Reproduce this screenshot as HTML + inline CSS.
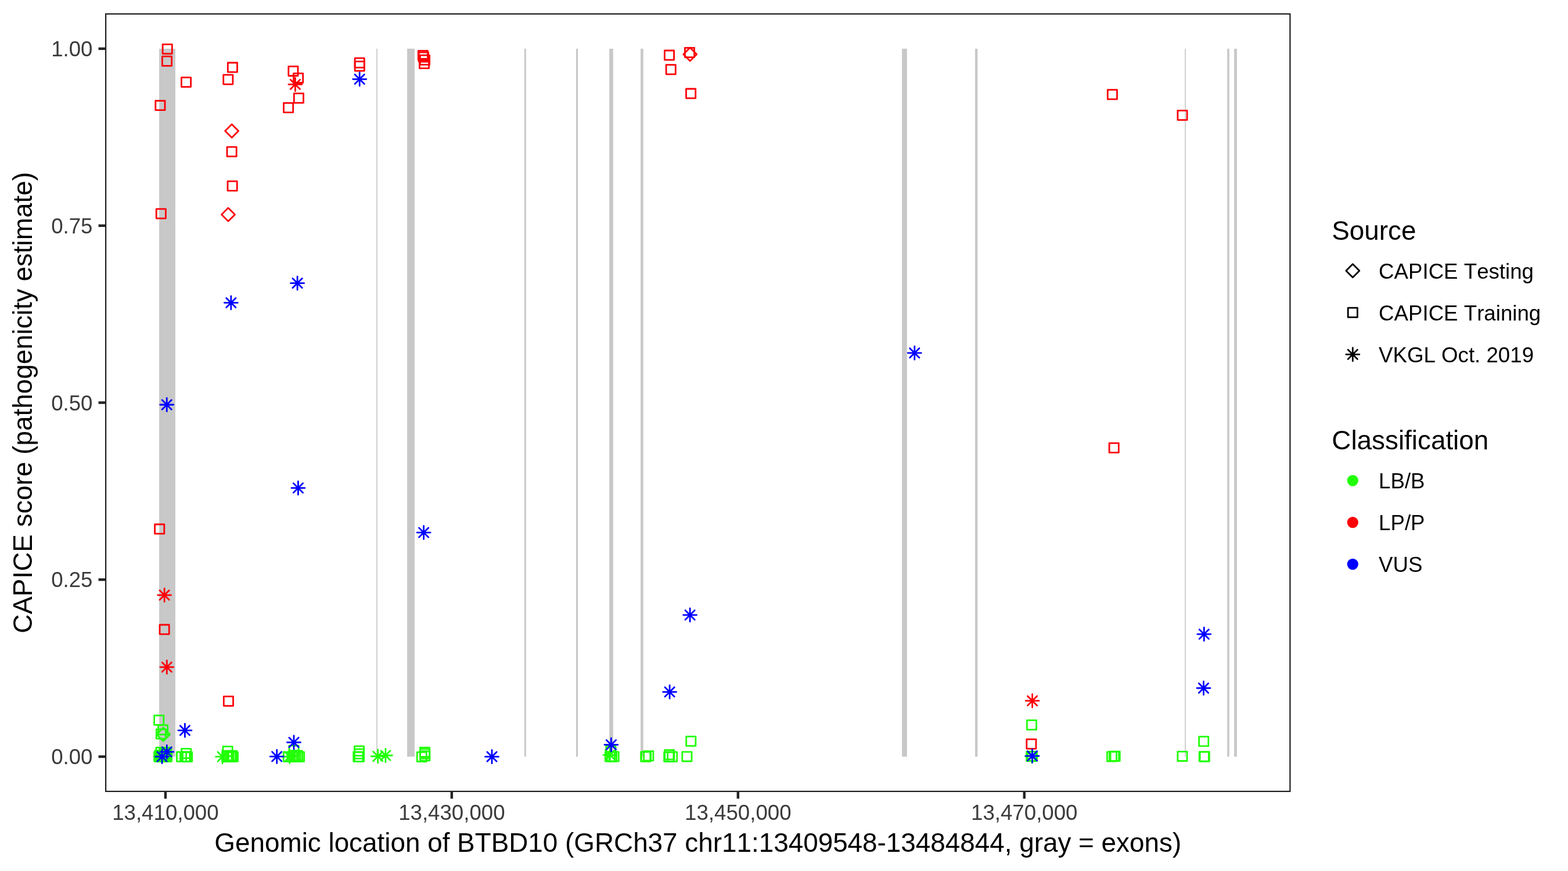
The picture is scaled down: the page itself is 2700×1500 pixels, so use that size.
<!DOCTYPE html>
<html lang="en"><head><meta charset="utf-8"><title>CAPICE score BTBD10</title>
<style>html,body{margin:0;padding:0;background:#fff;}body{width:2700px;height:1500px;overflow:hidden;}svg{display:block;}text{font-family:"Liberation Sans",sans-serif;font-kerning:none;}</style>
</head><body>
<svg width="2700" height="1500" viewBox="0 0 2700 1500">
<rect x="0" y="0" width="2700" height="1500" fill="#ffffff"/>
<g fill="#c8c8c8">
<rect x="274.10" y="83.85" width="27.80" height="1219.20"/>
<rect x="648.20" y="83.85" width="1.70" height="1219.20"/>
<rect x="701.10" y="83.85" width="12.80" height="1219.20"/>
<rect x="902.90" y="83.85" width="2.90" height="1219.20"/>
<rect x="992.00" y="83.85" width="3.10" height="1219.20"/>
<rect x="1049.20" y="83.85" width="6.60" height="1219.20"/>
<rect x="1103.10" y="83.85" width="4.60" height="1219.20"/>
<rect x="1553.10" y="83.85" width="8.70" height="1219.20"/>
<rect x="1679.00" y="83.85" width="4.30" height="1219.20"/>
<rect x="2040.20" y="83.85" width="1.70" height="1219.20"/>
<rect x="2113.20" y="83.85" width="3.60" height="1219.20"/>
<rect x="2125.10" y="83.85" width="4.80" height="1219.20"/>
</g>
<g fill="none" stroke-width="2.80" stroke-linejoin="round" stroke-linecap="round">
<g stroke="#21ff06">
<rect x="265.60" y="1232.10" width="16.20" height="16.20"/>
<rect x="272.50" y="1248.80" width="16.20" height="16.20"/>
<rect x="269.30" y="1255.90" width="16.20" height="16.20"/>
<rect x="265.60" y="1295.10" width="16.20" height="16.20"/>
<rect x="267.50" y="1295.10" width="16.20" height="16.20"/>
<rect x="269.40" y="1295.10" width="16.20" height="16.20"/>
<rect x="271.30" y="1295.10" width="16.20" height="16.20"/>
<rect x="273.20" y="1295.10" width="16.20" height="16.20"/>
<rect x="275.10" y="1295.10" width="16.20" height="16.20"/>
<rect x="277.00" y="1295.10" width="16.20" height="16.20"/>
<rect x="279.30" y="1295.10" width="16.20" height="16.20"/>
<rect x="268.90" y="1287.40" width="16.20" height="16.20"/>
<rect x="274.90" y="1287.40" width="16.20" height="16.20"/>
<rect x="278.60" y="1287.40" width="16.20" height="16.20"/>
<rect x="266.90" y="1292.50" width="16.20" height="16.20"/>
<rect x="271.90" y="1292.50" width="16.20" height="16.20"/>
<rect x="276.90" y="1292.50" width="16.20" height="16.20"/>
<rect x="274.80" y="1289.90" width="16.20" height="16.20"/>
<rect x="304.50" y="1295.10" width="16.20" height="16.20"/>
<rect x="310.50" y="1295.10" width="16.20" height="16.20"/>
<rect x="312.50" y="1295.10" width="16.20" height="16.20"/>
<rect x="314.60" y="1295.10" width="16.20" height="16.20"/>
<rect x="312.50" y="1289.40" width="16.20" height="16.20"/>
<rect x="384.00" y="1285.60" width="16.20" height="16.20"/>
<rect x="382.60" y="1295.10" width="16.20" height="16.20"/>
<rect x="385.90" y="1295.10" width="16.20" height="16.20"/>
<rect x="389.40" y="1295.10" width="16.20" height="16.20"/>
<rect x="393.30" y="1295.10" width="16.20" height="16.20"/>
<rect x="383.90" y="1293.10" width="16.20" height="16.20"/>
<rect x="391.40" y="1293.10" width="16.20" height="16.20"/>
<rect x="498.00" y="1284.20" width="16.20" height="16.20"/>
<rect x="488.20" y="1295.10" width="16.20" height="16.20"/>
<rect x="495.10" y="1295.10" width="16.20" height="16.20"/>
<rect x="500.70" y="1295.10" width="16.20" height="16.20"/>
<rect x="504.20" y="1295.10" width="16.20" height="16.20"/>
<rect x="507.50" y="1295.10" width="16.20" height="16.20"/>
<rect x="497.90" y="1292.90" width="16.20" height="16.20"/>
<rect x="504.00" y="1292.90" width="16.20" height="16.20"/>
<rect x="610.40" y="1285.10" width="16.20" height="16.20"/>
<rect x="610.40" y="1290.10" width="16.20" height="16.20"/>
<rect x="610.40" y="1295.10" width="16.20" height="16.20"/>
<rect x="608.70" y="1295.10" width="16.20" height="16.20"/>
<rect x="718.20" y="1295.40" width="16.20" height="16.20"/>
<rect x="723.70" y="1293.60" width="16.20" height="16.20"/>
<rect x="723.50" y="1289.90" width="16.20" height="16.20"/>
<rect x="723.40" y="1287.30" width="16.20" height="16.20"/>
<rect x="1042.30" y="1294.90" width="16.20" height="16.20"/>
<rect x="1049.10" y="1294.90" width="16.20" height="16.20"/>
<rect x="1043.80" y="1284.90" width="16.20" height="16.20"/>
<rect x="1045.40" y="1294.90" width="16.20" height="16.20"/>
<rect x="1103.60" y="1294.90" width="16.20" height="16.20"/>
<rect x="1104.40" y="1294.90" width="16.20" height="16.20"/>
<rect x="1108.65" y="1293.70" width="16.20" height="16.20"/>
<rect x="1143.60" y="1295.10" width="16.20" height="16.20"/>
<rect x="1144.30" y="1295.10" width="16.20" height="16.20"/>
<rect x="1149.60" y="1295.10" width="16.20" height="16.20"/>
<rect x="1144.70" y="1291.60" width="16.20" height="16.20"/>
<rect x="1174.80" y="1294.80" width="16.20" height="16.20"/>
<rect x="1181.70" y="1268.40" width="16.20" height="16.20"/>
<rect x="1768.40" y="1240.40" width="16.20" height="16.20"/>
<rect x="1767.70" y="1294.50" width="16.20" height="16.20"/>
<rect x="1768.50" y="1294.50" width="16.20" height="16.20"/>
<rect x="1769.40" y="1294.50" width="16.20" height="16.20"/>
<rect x="1906.40" y="1294.90" width="16.20" height="16.20"/>
<rect x="1910.40" y="1294.50" width="16.20" height="16.20"/>
<rect x="1912.10" y="1294.10" width="16.20" height="16.20"/>
<rect x="2027.90" y="1294.30" width="16.20" height="16.20"/>
<rect x="2064.60" y="1268.70" width="16.20" height="16.20"/>
<rect x="2065.20" y="1294.90" width="16.20" height="16.20"/>
<rect x="2066.20" y="1294.90" width="16.20" height="16.20"/>
<path d="M269.60 1264.80L281.10 1253.30L292.60 1264.80L281.10 1276.30Z"/>
<path d="M1768.86 1294.26L1785.14 1310.54M1768.86 1310.54L1785.14 1294.26M1765.49 1302.40L1788.51 1302.40M1777.00 1290.89L1777.00 1313.91"/>
<path d="M374.96 1295.06L391.24 1311.34M374.96 1311.34L391.24 1295.06M371.59 1303.20L394.61 1303.20M383.10 1291.69L383.10 1314.71"/>
<path d="M490.56 1294.86L506.84 1311.14M490.56 1311.14L506.84 1294.86M487.19 1303.00L510.21 1303.00M498.70 1291.49L498.70 1314.51"/>
<path d="M642.56 1294.36L658.84 1310.64M642.56 1310.64L658.84 1294.36M639.19 1302.50L662.21 1302.50M650.70 1290.99L650.70 1314.01"/>
<path d="M655.76 1292.86L672.04 1309.14M655.76 1309.14L672.04 1292.86M652.39 1301.00L675.41 1301.00M663.90 1289.49L663.90 1312.51"/>
<path d="M1042.26 1292.06L1058.54 1308.34M1042.26 1308.34L1058.54 1292.06M1038.89 1300.20L1061.91 1300.20M1050.40 1288.69L1050.40 1311.71"/>
</g>
<g stroke="#fb0007">
<rect x="280.10" y="76.30" width="16.20" height="16.20"/>
<rect x="279.40" y="97.20" width="16.20" height="16.20"/>
<rect x="312.40" y="133.40" width="16.20" height="16.20"/>
<rect x="267.80" y="173.50" width="16.20" height="16.20"/>
<rect x="392.30" y="108.00" width="16.20" height="16.20"/>
<rect x="384.70" y="128.90" width="16.20" height="16.20"/>
<rect x="496.80" y="114.30" width="16.20" height="16.20"/>
<rect x="505.50" y="126.30" width="16.20" height="16.20"/>
<rect x="506.30" y="160.90" width="16.20" height="16.20"/>
<rect x="488.50" y="177.40" width="16.20" height="16.20"/>
<rect x="611.10" y="100.10" width="16.20" height="16.20"/>
<rect x="611.10" y="105.90" width="16.20" height="16.20"/>
<rect x="391.00" y="253.20" width="16.20" height="16.20"/>
<rect x="392.00" y="312.10" width="16.20" height="16.20"/>
<rect x="269.20" y="359.90" width="16.20" height="16.20"/>
<rect x="720.30" y="87.40" width="16.20" height="16.20"/>
<rect x="721.30" y="90.10" width="16.20" height="16.20"/>
<rect x="723.40" y="95.20" width="16.20" height="16.20"/>
<rect x="722.40" y="101.50" width="16.20" height="16.20"/>
<rect x="1144.40" y="87.00" width="16.20" height="16.20"/>
<rect x="1147.10" y="111.60" width="16.20" height="16.20"/>
<rect x="1179.40" y="82.35" width="16.20" height="16.20"/>
<rect x="1181.50" y="153.00" width="16.20" height="16.20"/>
<rect x="1907.30" y="154.70" width="16.20" height="16.20"/>
<rect x="2027.90" y="190.40" width="16.20" height="16.20"/>
<rect x="1910.10" y="763.20" width="16.20" height="16.20"/>
<rect x="266.60" y="903.00" width="16.20" height="16.20"/>
<rect x="275.00" y="1076.00" width="16.20" height="16.20"/>
<rect x="385.30" y="1199.40" width="16.20" height="16.20"/>
<rect x="1767.80" y="1273.10" width="16.20" height="16.20"/>
<path d="M387.60 225.40L399.10 213.90L410.60 225.40L399.10 236.90Z"/>
<path d="M381.50 369.60L393.00 358.10L404.50 369.60L393.00 381.10Z"/>
<path d="M1176.70 93.50L1188.20 82.00L1199.70 93.50L1188.20 105.00Z"/>
<path d="M500.26 137.26L516.54 153.54M500.26 153.54L516.54 137.26M496.89 145.40L519.91 145.40M508.40 133.89L508.40 156.91"/>
<path d="M274.96 1016.66L291.24 1032.94M274.96 1032.94L291.24 1016.66M271.59 1024.80L294.61 1024.80M283.10 1013.29L283.10 1036.31"/>
<path d="M279.16 1140.66L295.44 1156.94M279.16 1156.94L295.44 1140.66M275.79 1148.80L298.81 1148.80M287.30 1137.29L287.30 1160.31"/>
<path d="M1769.46 1198.66L1785.74 1214.94M1769.46 1214.94L1785.74 1198.66M1766.09 1206.80L1789.11 1206.80M1777.60 1195.29L1777.60 1218.31"/>
</g>
<g stroke="#0000ff">
<path d="M611.06 128.16L627.34 144.44M611.06 144.44L627.34 128.16M607.69 136.30L630.71 136.30M619.20 124.79L619.20 147.81"/>
<path d="M503.96 479.56L520.24 495.84M503.96 495.84L520.24 479.56M500.59 487.70L523.61 487.70M512.10 476.19L512.10 499.21"/>
<path d="M389.66 513.16L405.94 529.44M389.66 529.44L405.94 513.16M386.29 521.30L409.31 521.30M397.80 509.79L397.80 532.81"/>
<path d="M279.06 688.86L295.34 705.14M279.06 705.14L295.34 688.86M275.69 697.00L298.71 697.00M287.20 685.49L287.20 708.51"/>
<path d="M505.26 832.26L521.54 848.54M505.26 848.54L521.54 832.26M501.89 840.40L524.91 840.40M513.40 828.89L513.40 851.91"/>
<path d="M721.46 908.96L737.74 925.24M721.46 925.24L737.74 908.96M718.09 917.10L741.11 917.10M729.60 905.59L729.60 928.61"/>
<path d="M310.26 1249.66L326.54 1265.94M310.26 1265.94L326.54 1249.66M306.89 1257.80L329.91 1257.80M318.40 1246.29L318.40 1269.31"/>
<path d="M497.86 1270.36L514.14 1286.64M497.86 1286.64L514.14 1270.36M494.49 1278.50L517.51 1278.50M506.00 1266.99L506.00 1290.01"/>
<path d="M838.86 1295.06L855.14 1311.34M838.86 1311.34L855.14 1295.06M835.49 1303.20L858.51 1303.20M847.00 1291.69L847.00 1314.71"/>
<path d="M468.56 1294.76L484.84 1311.04M468.56 1311.04L484.84 1294.76M465.19 1302.90L488.21 1302.90M476.70 1291.39L476.70 1314.41"/>
<path d="M279.16 1286.76L295.44 1303.04M279.16 1303.04L295.44 1286.76M275.79 1294.90L298.81 1294.90M287.30 1283.39L287.30 1306.41"/>
<path d="M270.86 1294.86L287.14 1311.14M270.86 1311.14L287.14 1294.86M267.49 1303.00L290.51 1303.00M279.00 1291.49L279.00 1314.51"/>
<path d="M1144.96 1183.46L1161.24 1199.74M1144.96 1199.74L1161.24 1183.46M1141.59 1191.60L1164.61 1191.60M1153.10 1180.09L1153.10 1203.11"/>
<path d="M1044.26 1274.46L1060.54 1290.74M1044.26 1290.74L1060.54 1274.46M1040.89 1282.60L1063.91 1282.60M1052.40 1271.09L1052.40 1294.11"/>
<path d="M1179.96 1050.96L1196.24 1067.24M1179.96 1067.24L1196.24 1050.96M1176.59 1059.10L1199.61 1059.10M1188.10 1047.59L1188.10 1070.61"/>
<path d="M1566.66 599.66L1582.94 615.94M1566.66 615.94L1582.94 599.66M1563.29 607.80L1586.31 607.80M1574.80 596.29L1574.80 619.31"/>
<path d="M2065.16 1083.96L2081.44 1100.24M2065.16 1100.24L2081.44 1083.96M2061.79 1092.10L2084.81 1092.10M2073.30 1080.59L2073.30 1103.61"/>
<path d="M2064.36 1176.86L2080.64 1193.14M2064.36 1193.14L2080.64 1176.86M2060.99 1185.00L2084.01 1185.00M2072.50 1173.49L2072.50 1196.51"/>
<path d="M1769.46 1293.66L1785.74 1309.94M1769.46 1309.94L1785.74 1293.66M1766.09 1301.80L1789.11 1301.80M1777.60 1290.29L1777.60 1313.31"/>
</g>
</g>
<rect x="182.10" y="24.00" width="2039.30" height="1338.90" fill="none" stroke="#1e1e1e" stroke-width="2.20"/>
<g stroke="#242424" stroke-width="4.45">
<line x1="169.54" y1="1303.05" x2="181.00" y2="1303.05"/>
<line x1="169.54" y1="998.25" x2="181.00" y2="998.25"/>
<line x1="169.54" y1="693.45" x2="181.00" y2="693.45"/>
<line x1="169.54" y1="388.65" x2="181.00" y2="388.65"/>
<line x1="169.54" y1="83.85" x2="181.00" y2="83.85"/>
<line x1="284.90" y1="1364.00" x2="284.90" y2="1375.46"/>
<line x1="777.86" y1="1364.00" x2="777.86" y2="1375.46"/>
<line x1="1270.82" y1="1364.00" x2="1270.82" y2="1375.46"/>
<line x1="1763.78" y1="1364.00" x2="1763.78" y2="1375.46"/>
</g>
<g fill="#3b3b3b" font-size="36.67px">
<text x="159.50" y="1316.15" text-anchor="end">0.00</text>
<text x="159.50" y="1011.35" text-anchor="end">0.25</text>
<text x="159.50" y="706.55" text-anchor="end">0.50</text>
<text x="159.50" y="401.75" text-anchor="end">0.75</text>
<text x="159.50" y="96.95" text-anchor="end">1.00</text>
<text x="284.90" y="1412.30" text-anchor="middle">13,410,000</text>
<text x="777.86" y="1412.30" text-anchor="middle">13,430,000</text>
<text x="1270.82" y="1412.30" text-anchor="middle">13,450,000</text>
<text x="1763.78" y="1412.30" text-anchor="middle">13,470,000</text>
</g>
<g fill="#000000" font-size="45.83px">
<text x="1201.75" y="1467.40" text-anchor="middle">Genomic location of BTBD10 (GRCh37 chr11:13409548-13484844, gray = exons)</text>
<text transform="translate(55.20 693.45) rotate(-90)" text-anchor="middle">CAPICE score (pathogenicity estimate)</text>
<text x="2293.30" y="412.50">Source</text>
<text x="2293.30" y="774.00">Classification</text>
</g>
<g fill="#000000" font-size="36.67px">
<text x="2374.10" y="480.20">CAPICE Testing</text>
<text x="2374.10" y="552.20">CAPICE Training</text>
<text x="2374.10" y="624.20">VKGL Oct. 2019</text>
<text x="2374.10" y="840.80">LB/B</text>
<text x="2374.10" y="912.80">LP/P</text>
<text x="2374.10" y="984.80">VUS</text>
</g>
<g fill="none" stroke="#000000" stroke-width="2.80" stroke-linejoin="round" stroke-linecap="round">
<path d="M2317.80 466.30L2329.30 454.80L2340.80 466.30L2329.30 477.80Z"/>
<rect x="2321.20" y="530.20" width="16.20" height="16.20"/>
<path d="M2321.16 602.16L2337.44 618.44M2321.16 618.44L2337.44 602.16M2317.79 610.30L2340.81 610.30M2329.30 598.79L2329.30 621.81"/>
</g>
<circle cx="2329.30" cy="827.60" r="9.6" fill="#21ff06"/>
<circle cx="2329.30" cy="899.60" r="9.6" fill="#fb0007"/>
<circle cx="2329.30" cy="971.60" r="9.6" fill="#0000ff"/>
</svg>
</body></html>
